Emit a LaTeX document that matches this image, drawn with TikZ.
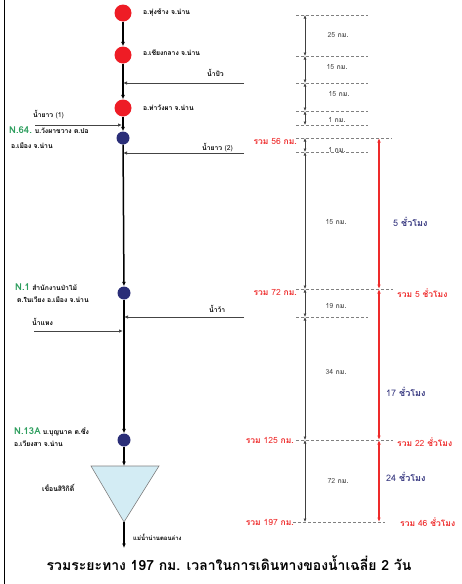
\documentclass[tikz,border=0pt]{standalone}
\usepackage{fontspec}
\setmainfont[Script=Thai]{Loma}
\usetikzlibrary{arrows.meta}
\definecolor{rdot}{HTML}{EE1C25}
\definecolor{bdot}{HTML}{2A2E78}
\definecolor{gtxt}{HTML}{2E9E5E}
\definecolor{rtxt}{HTML}{EE2A2A}
\definecolor{ntxt}{HTML}{34357E}
\definecolor{tri}{HTML}{D3ECF4}
\definecolor{dgray}{HTML}{444444}
\begin{document}
\begin{tikzpicture}[x=1pt,y=-1pt,
  lbl/.style={font=\bfseries\fontsize{6.8}{7.5}\selectfont, inner sep=0pt, anchor=west},
  redst/.style={circle, fill=rdot, minimum size=17pt, inner sep=0pt},
  bluest/.style={circle, fill=bdot, minimum size=13pt, inner sep=0pt},
  river/.style={line width=1.5pt, -{Latex[length=4.5pt,width=4pt]}},
  trib/.style={dgray, line width=0.9pt, -{Latex[length=4pt,width=3.5pt]}},
  dashln/.style={gray, line width=0.5pt, dash pattern=on 3pt off 2pt},
  dimarr/.style={black!75, line width=0.6pt, {Latex[length=3.5pt,width=3pt]}-{Latex[length=3.5pt,width=3pt]}},
  redarr/.style={rtxt, line width=1.1pt, {Latex[length=4.5pt,width=3.5pt]}-{Latex[length=4.5pt,width=3.5pt]}},
  dimtxt/.style={font=\fontsize{7}{8}\selectfont, text=black!70, inner sep=0pt},
  tottxt/.style={font=\fontsize{8.5}{9}\selectfont, text=rtxt, inner sep=0pt},
  hrtxt/.style={font=\fontsize{9}{10}\selectfont, text=ntxt, inner sep=0pt, anchor=west}
]
\useasboundingbox (0,0) rectangle (461,584);
\draw[line width=1pt] (4.5,0) -- (4.5,584);

% stations
\node[redst] (s1) at (123,13) {};
\node[redst] (s2) at (123,55) {};
\node[redst] (s3) at (123,108) {};
\node[bluest] (n64) at (123,138) {};
\node[bluest] (n1) at (124,293) {};
\node[bluest] (n13) at (124,440) {};
\path[fill=tri, draw=gray, line width=0.6pt] (91,466) coordinate (tl) -- (159,466) coordinate (tr) -- (124,522) coordinate (tb) -- cycle;
\coordinate (ttop) at (124,466);
\coordinate (rend) at (124,548);

% river
\draw[river] (s1) -- (s2);
\draw[river] (s2) -- (s3);
\draw[river] (s3) -- (n64);
\draw[river] (n64) -- (n1);
\draw[river] (n1) -- (n13);
\draw[river] (n13) -- (ttop);
\draw[river] (tb) -- (rend);

% station labels
\node[lbl] (l1) at (143,13) {อ.ทุ่งช้าง จ.น่าน};
\node[lbl] (l2) at (143,53) {อ.เชียงกลาง จ.น่าน};
\node[lbl] (l3) at (143,108) {อ.ท่าวังผา จ.น่าน};
\node[lbl] (l64a) at (9,130) {\textcolor{gtxt}{\fontsize{9.5}{10}\selectfont N.64.} บ.วังผาขวาง ต.ปอ};
\node[lbl] (l64b) at (11,146) {อ.เมือง จ.น่าน};
\node[lbl] (l1a) at (15,287) {\textcolor{gtxt}{\fontsize{9.5}{10}\selectfont N.1} สำนักงานป่าไม้};
\node[lbl] (l1b) at (17,300) {ต.ในเวียง อ.เมือง จ.น่าน};
\node[lbl] (l13a) at (14,432) {\textcolor{gtxt}{\fontsize{9.5}{10}\selectfont N.13A} บ.บุญนาค ต.ซึ่ง};
\node[lbl] (l13b) at (14,444) {อ.เวียงสา จ.น่าน};
\node[lbl] (ldam) at (42,488) {เขื่อนสิริกิติ์};
\node[lbl, font=\bfseries\fontsize{6}{7}\selectfont] (llow) at (133,537) {แม่น้ำน่านตอนล่าง};

% tributaries
\coordinate (pua0) at (244,83); \coordinate (pua1) at (123,83);
\draw[trib] (pua0) -- (pua1);
\node[lbl] (tpua) at (207,73) {น้ำปัว};
\coordinate (yao10) at (35,125); \coordinate (yao11) at (122,125);
\draw[trib] (yao10) -- (yao11);
\node[lbl] (tyao1) at (33,115) {น้ำยาว \textmd{(1)}};
\coordinate (yao20) at (244,153); \coordinate (yao21) at (123,153);
\draw[trib] (yao20) -- (yao21);
\node[lbl] (tyao2) at (202,148) {น้ำยาว \textmd{(2)}};
\coordinate (wa0) at (244,317); \coordinate (wa1) at (124,317);
\draw[trib] (wa0) -- (wa1);
\node[lbl] (twa) at (209,309) {น้ำว้า};
\coordinate (haeng0) at (34,331); \coordinate (haeng1) at (123,331);
\draw[trib] (haeng0) -- (haeng1);
\node[lbl] (thaeng) at (32,322) {น้ำแหง};

% dashed level lines
\foreach \y/\xe in {15/368,56/368,83/368,111/368,125/368,138/392,152/368,289/393,317/368,440/393}{
  \draw[dashln] (296,\y) -- (\xe,\y);
}
\draw[dashln] (293,522) -- (385,522);

% distance arrows
\foreach \n/\y in {a/15,b/56,c/83,d/111,e/125,f/138,g/152,h/289,i/317,j/440,k/522}{
  \coordinate (d\n) at (305,\y);
  \coordinate (r\n) at (379,\y);
}
\draw[dimarr] (da) -- (db);
\draw[dimarr] (db) -- (dc);
\draw[dimarr] (dc) -- (dd);
\draw[dimarr] (dd) -- (de);
\draw[dimarr] (df) -- (dg);
\draw[dimarr] (dg) -- (dh);
\draw[dimarr] (dh) -- (di);
\draw[dimarr] (di) -- (dj);
\draw[dimarr] (dj) -- (dk);
\node[dimtxt] (k1) at (338,35) {25 \textbf{กม.}};
\node[dimtxt] (k2) at (337,67) {15 \textbf{กม.}};
\node[dimtxt] (k3) at (339,94) {15 \textbf{กม.}};
\node[dimtxt] (k4) at (337,120) {1 \textbf{กม.}};
\node[dimtxt] (k5) at (337,150) {1 \textbf{กม.}};
\node[dimtxt] (k6) at (336,222) {15 \textbf{กม.}};
\node[dimtxt] (k7) at (336,306) {19 \textbf{กม.}};
\node[dimtxt] (k8) at (336,372) {34 \textbf{กม.}};
\node[dimtxt] (k9) at (338,481) {72 \textbf{กม.}};

% time arrows
\draw[redarr] (rf) -- (rh);
\draw[redarr] (rh) -- (rj);
\draw[redarr] (rj) -- (rk);
\node[hrtxt] (h1) at (393,222) {5 \textbf{ชั่วโมง}};
\node[hrtxt] (h2) at (386,392) {17 \textbf{ชั่วโมง}};
\node[hrtxt] (h3) at (386,477) {24 \textbf{ชั่วโมง}};

% totals
\node[tottxt, anchor=east] (s56) at (297,141) {\textbf{รวม} 56 \textbf{กม.}};
\node[tottxt, anchor=east] (s72) at (297,292) {\textbf{รวม} 72 \textbf{กม.}};
\node[tottxt, anchor=east] (s125) at (294,440) {\textbf{รวม} 125 \textbf{กม.}};
\node[tottxt, anchor=east] (s197) at (294,522) {\textbf{รวม} 197 \textbf{กม.}};
\node[tottxt, anchor=west] (t5) at (397,293) {\textbf{รวม} 5 \textbf{ชั่วโมง}};
\node[tottxt, anchor=west] (t22) at (397,442) {\textbf{รวม} 22 \textbf{ชั่วโมง}};
\node[tottxt, anchor=west] (t46) at (400,522) {\textbf{รวม} 46 \textbf{ชั่วโมง}};

% title
\node[font=\bfseries\fontsize{14}{15}\selectfont, inner sep=0pt] (title) at (229,563) {รวมระยะทาง 197 กม. เวลาในการเดินทางของน้ำเฉลี่ย 2 วัน};
\end{tikzpicture}
\end{document}
